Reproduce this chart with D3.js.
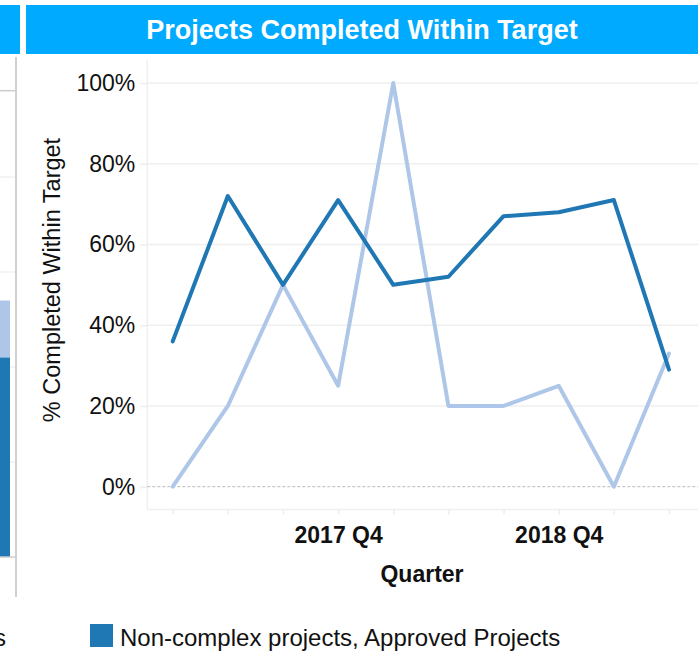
<!DOCTYPE html>
<html>
<head>
<meta charset="utf-8">
<script src="https://cdn.jsdelivr.net/npm/d3@7"></script>
<style>
  body { margin: 0; background: #fff; }
  svg { display: block; font-family: "Liberation Sans", Arial, sans-serif; }
</style>
</head>
<body>
<div id="chart"></div>
<script>
// quarters on the x axis
const quarters = ['2017 Q1', '2017 Q2', '2017 Q3', '2017 Q4', '2018 Q1',
  '2018 Q2', '2018 Q3', '2018 Q4', '2019 Q1', '2019 Q2'];
const labelledQuarters = ['2017 Q4', '2018 Q4'];
// % completed within target
const nonComplex = [0.36, 0.72, 0.50, 0.71, 0.50, 0.52, 0.67, 0.68, 0.71, 0.29];
const complexProj = [0.00, 0.20, 0.50, 0.25, 1.00, 0.20, 0.20, 0.25, 0.00, 0.33];
const yTicks = [0, 0.2, 0.4, 0.6, 0.8, 1];
// neighbouring panel (cut off on the left)
const leftBar = { dark: 21, light: 6 };
const leftTicks = [0, 10, 20, 30, 40];

const darkBlue = '#1f77b4', lightBlue = '#aec7e8', titleBlue = '#00aaff';

const W = 698, H = 654;
const svg = d3.select('#chart').append('svg').attr('width', W).attr('height', H);

// ---- left (cut) panel
svg.append('rect').attr('x', 0).attr('y', 5).attr('width', 20).attr('height', 49).attr('fill', titleBlue);
const ly = d3.scaleLinear().domain([0, 50]).range([557, 82]);
svg.append('g')
  .selectAll('line')
  .data(leftTicks.slice(1))
  .join('line')
  .attr('x1', 0).attr('x2', 16)
  .attr('y1', d => ly(d)).attr('y2', d => ly(d))
  .attr('stroke', '#f0f0f0').attr('stroke-width', 1.5);
svg.append('line').attr('x1', 0).attr('x2', 16).attr('y1', 90.7).attr('y2', 90.7)
  .attr('stroke', '#ccc').attr('stroke-width', 1.5);
svg.append('rect').attr('x', 0).attr('width', 10)
  .attr('y', ly(leftBar.dark + leftBar.light))
  .attr('height', ly(leftBar.dark) - ly(leftBar.dark + leftBar.light))
  .attr('fill', lightBlue);
svg.append('rect').attr('x', 0).attr('width', 10)
  .attr('y', ly(leftBar.dark))
  .attr('height', ly(0) - ly(leftBar.dark))
  .attr('fill', darkBlue);
svg.append('line').attr('x1', 0).attr('x2', 16).attr('y1', ly(0)).attr('y2', ly(0))
  .attr('stroke', '#ccc').attr('stroke-width', 1.5);
svg.append('line').attr('x1', 16).attr('x2', 16).attr('y1', 57).attr('y2', 597)
  .attr('stroke', '#d0d0d0').attr('stroke-width', 2);
// tail of the neighbouring legend label
svg.append('text').attr('x', 6).attr('y', 646).attr('text-anchor', 'end')
  .attr('font-size', 24).attr('fill', '#111').text('s');

// ---- main panel
svg.append('rect').attr('x', 26).attr('y', 5).attr('width', W - 26).attr('height', 49).attr('fill', titleBlue);
svg.append('text').attr('x', 362).attr('y', 39).attr('text-anchor', 'middle')
  .attr('font-size', 27).attr('font-weight', 'bold').attr('fill', '#fff')
  .text('Projects Completed Within Target');

const plotL = 147.3, plotR = W, plotT = 60, plotB = 509.5;
const x = d3.scalePoint().domain(quarters).range([172.7, 669]);
const y = d3.scaleLinear().domain([0, 1]).range([486.7, 83]);

// left border and bottom border
svg.append('line').attr('x1', plotL).attr('x2', plotL).attr('y1', plotT).attr('y2', plotB)
  .attr('stroke', '#f0f0f0').attr('stroke-width', 1.5);
svg.append('line').attr('x1', plotL).attr('x2', plotR).attr('y1', plotB).attr('y2', plotB)
  .attr('stroke', '#f0f0f0').attr('stroke-width', 1.5);

// y gridlines
svg.append('g')
  .selectAll('line')
  .data(yTicks.filter(d => d > 0))
  .join('line')
  .attr('x1', plotL).attr('x2', plotR)
  .attr('y1', d => y(d)).attr('y2', d => y(d))
  .attr('stroke', '#efefef').attr('stroke-width', 1.5);
svg.append('line').attr('x1', plotL).attr('x2', plotR).attr('y1', y(0)).attr('y2', y(0))
  .attr('stroke', '#bbb').attr('stroke-width', 1).attr('stroke-dasharray', '3,2');

// y axis
const yAxis = svg.append('g')
  .attr('transform', `translate(${plotL},0)`)
  .call(d3.axisLeft(y).tickValues(yTicks).tickFormat(d3.format('.0%')).tickSize(7).tickPadding(5));
yAxis.select('.domain').remove();
yAxis.selectAll('line').attr('stroke', '#eee').attr('stroke-width', 1.5);
yAxis.selectAll('text').attr('font-size', 23).attr('fill', '#111')
  .attr('font-family', '"Liberation Sans", Arial, sans-serif');

svg.append('text')
  .attr('transform', 'translate(60,280) rotate(-90)')
  .attr('text-anchor', 'middle')
  .attr('font-size', 23.5).attr('fill', '#111')
  .text('% Completed Within Target');

// x axis
const xAxis = svg.append('g')
  .attr('transform', `translate(0,${plotB})`)
  .call(d3.axisBottom(x).tickSize(5).tickPadding(12)
    .tickFormat(d => labelledQuarters.includes(d) ? d : ''));
xAxis.select('.domain').remove();
xAxis.selectAll('line').attr('stroke', '#eee').attr('stroke-width', 1.5);
xAxis.selectAll('text').attr('font-size', 23).attr('font-weight', 'bold').attr('fill', '#111')
  .attr('font-family', '"Liberation Sans", Arial, sans-serif');

svg.append('text').attr('x', 422).attr('y', 582).attr('text-anchor', 'middle')
  .attr('font-size', 23).attr('font-weight', 'bold').attr('fill', '#111')
  .text('Quarter');

// lines
const line = d3.line().x((d, i) => x(quarters[i])).y(d => y(d));
svg.append('path').datum(complexProj).attr('d', line)
  .attr('fill', 'none').attr('stroke', lightBlue).attr('stroke-width', 4)
  .attr('stroke-linejoin', 'round').attr('stroke-linecap', 'round');
svg.append('path').datum(nonComplex).attr('d', line)
  .attr('fill', 'none').attr('stroke', darkBlue).attr('stroke-width', 4)
  .attr('stroke-linejoin', 'round').attr('stroke-linecap', 'round');

// legend
svg.append('rect').attr('x', 90).attr('y', 624).attr('width', 23).attr('height', 23).attr('fill', darkBlue);
svg.append('text').attr('x', 120).attr('y', 646)
  .attr('font-size', 24).attr('fill', '#111')
  .text('Non-complex projects, Approved Projects');
</script>
</body>
</html>
